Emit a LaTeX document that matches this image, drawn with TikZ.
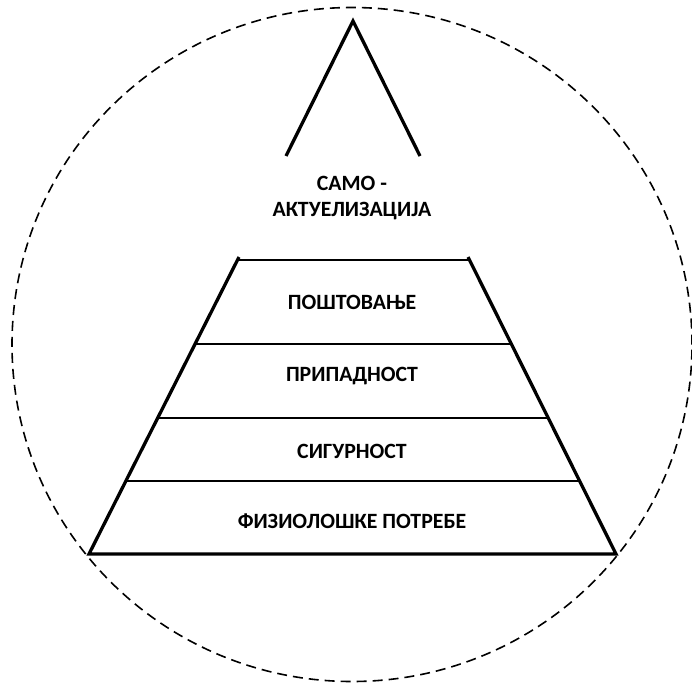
\documentclass[tikz,border=0pt]{standalone}
\usepackage{fontspec}
\setmainfont{Carlito}
\usetikzlibrary{calc}
\begin{document}
\begin{tikzpicture}[x=1pt,y=-1pt,
  thickedge/.style={line width=3.3pt},
  thinrule/.style={line width=1.5pt},
  lbl/.style={font=\bfseries\fontsize{21.8}{25}\selectfont, inner sep=0pt, anchor=center, align=center}]
\useasboundingbox (0,0) rectangle (692,682);
% dashed circle
\draw[dash pattern=on 10pt off 6pt, line width=1.6pt] (352,344.5) ellipse [x radius=340pt, y radius=337pt];
% top triangle
\coordinate (apex) at (353,21);
\coordinate (tl) at (286,156);
\coordinate (tr) at (420,156);
\draw[thickedge] (tl) -- (apex) -- (tr);
\node[lbl] (self) at (352,198) {САМО -\\[1pt]АКТУЕЛИЗАЦИЈА};
% trapezoid
\coordinate (A) at (239,257);
\coordinate (B) at (468,257);
\coordinate (C) at (616,554);
\coordinate (D) at (89,554);
\draw[thickedge] (A) -- (D) -- (C) -- (B);
\draw[thinrule] ($(A)!0.0101!(D)$) -- ($(B)!0.0101!(C)$);
\draw[thinrule] ($(A)!0.2929!(D)$) -- ($(B)!0.2929!(C)$);
\draw[thinrule] ($(A)!0.5421!(D)$) -- ($(B)!0.5421!(C)$);
\draw[thinrule] ($(A)!0.7542!(D)$) -- ($(B)!0.7542!(C)$);
\node[lbl] (esteem) at (352,302) {ПОШТОВАЊЕ};
\node[lbl] (belong) at (352,376) {ПРИПАДНОСТ};
\node[lbl] (safety) at (352,451) {СИГУРНОСТ};
\node[lbl] (physio) at (352,521) {ФИЗИОЛОШКЕ ПОТРЕБЕ};
\end{tikzpicture}
\end{document}
